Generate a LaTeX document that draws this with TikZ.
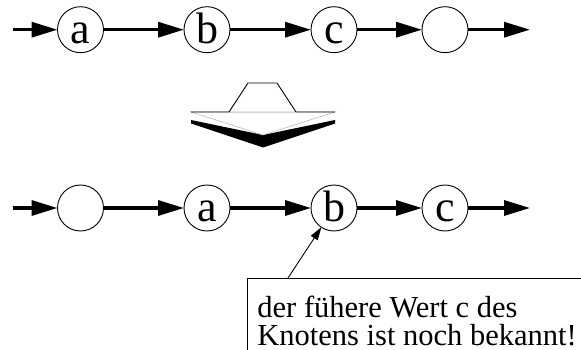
\documentclass[tikz,border=0pt]{standalone}
\usepackage{fontspec}
\setmainfont{Liberation Serif}
\usetikzlibrary{arrows.meta}
\begin{document}
\begin{tikzpicture}[x=1pt,y=-1pt,
  elem/.style={draw, circle, line width=0.9pt, minimum size=46pt, inner sep=0pt,
    outer sep=0pt, font=\fontsize{44}{44}\selectfont, text height=27pt, text depth=0pt},
  link/.style={line width=3.3pt, -{Triangle[length=26pt,width=15pt]}},
  pointer/.style={line width=0.9pt, -{Triangle[length=13pt,width=8pt]}},
  note/.style={draw, line width=0.9pt, anchor=north west, align=left,
    inner xsep=10pt, inner ysep=18pt, font=\fontsize{30.5}{28}\selectfont}]
\useasboundingbox (0,0) rectangle (581,350);

% list before the update
\coordinate (ts) at (12.7,29.7);
\coordinate (te) at (530,29.7);
\node[elem] (ta) at (80.5,29.7) {a};
\node[elem] (tb) at (207,29.7) {b};
\node[elem] (tc) at (334,29.7) {c};
\node[elem] (td) at (445,29.7) {};
\draw[link] (ts) -- (ta);
\draw[link] (ta) -- (tb);
\draw[link] (tb) -- (tc);
\draw[link] (tc) -- (td);
\draw[link] (td) -- (te);

% hollow 3D arrow pointing down: white front face, black side below
\fill[black] (191,120) -- (263,135) -- (335,120) -- (335,123.5) -- (263,147.5) -- (191,123.5) -- cycle;
\filldraw[fill=white, draw=gray!60, line width=0.5pt] (191,112) -- (263,135) -- (335,112) -- cycle;
\draw[line width=0.9pt] (191,112) -- (229,112) -- (248,83) -- (277,83) -- (296,112) -- (335,112);
\draw[gray!70, line width=1.2pt] (248,83) -- (277,83);
\draw[gray!35, line width=0.9pt] (229.5,112) -- (295.5,112);

% list after the update
\coordinate (bs) at (12.7,208);
\coordinate (be) at (530,208);
\node[elem] (bn) at (80.5,208) {};
\node[elem] (ba) at (207,208) {a};
\node[elem] (bb) at (334,208) {b};
\node[elem] (bc) at (445,208) {c};
\draw[link] (bs) -- (bn);
\draw[link] (bn) -- (ba);
\draw[link] (ba) -- (bb);
\draw[link] (bb) -- (bc);
\draw[link] (bc) -- (be);

% remark box, running past the right and bottom edges
\node[note] (note) at (247,278) {der fühere Wert c des\\Knotens ist noch bekannt!};
\coordinate (ptail) at (288,278);
\draw[pointer] (ptail) -- (bb);
\end{tikzpicture}
\end{document}
